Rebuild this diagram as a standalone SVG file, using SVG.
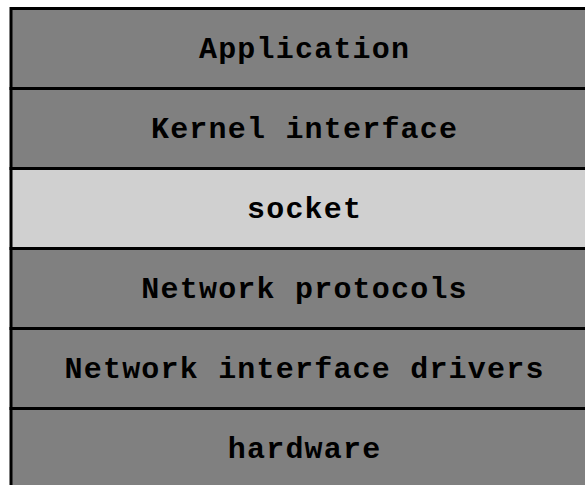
<svg xmlns="http://www.w3.org/2000/svg" width="585" height="485" viewBox="0 0 585 485">
<style>
.layer{fill:#808080;stroke:#000;stroke-width:3}
.hl{fill:#d0d0d0}
.lbl{font-family:"Liberation Mono","Courier New",monospace;font-weight:bold;font-size:30px;letter-spacing:1.2px;fill:#000;text-anchor:middle}
</style>
<rect width="585" height="485" fill="#fff"/>
<g id="application"><rect class="layer" x="11" y="8.5" width="586" height="80"/><text class="lbl" x="304.6" y="58">Application</text></g>
<g id="kernel-interface"><rect class="layer" x="11" y="88.5" width="586" height="80"/><text class="lbl" x="304.6" y="138">Kernel interface</text></g>
<g id="socket"><rect class="layer hl" x="11" y="168.5" width="586" height="80"/><text class="lbl" x="304.6" y="218">socket</text></g>
<g id="network-protocols"><rect class="layer" x="11" y="248.5" width="586" height="80"/><text class="lbl" x="304.6" y="298">Network protocols</text></g>
<g id="network-interface-drivers"><rect class="layer" x="11" y="328.5" width="586" height="80"/><text class="lbl" x="304.6" y="378">Network interface drivers</text></g>
<g id="hardware"><rect class="layer" x="11" y="408.5" width="586" height="80"/><text class="lbl" x="304.6" y="458">hardware</text></g>
<g id="connectors"></g>
</svg>
